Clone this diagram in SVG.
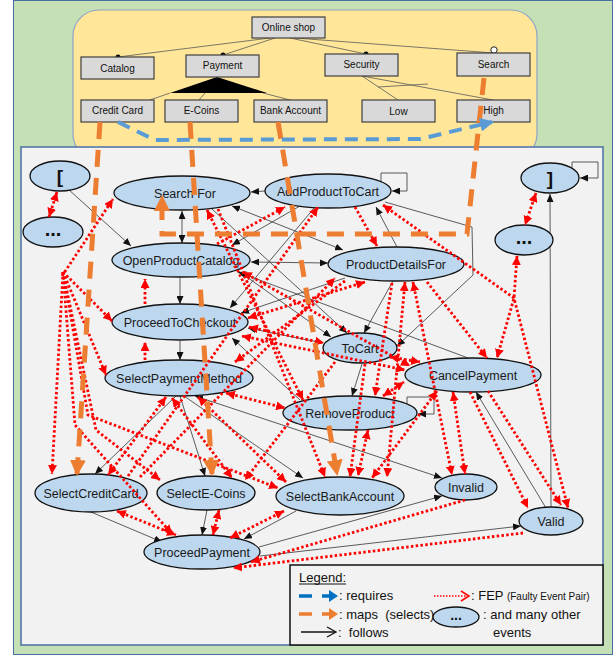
<svg xmlns="http://www.w3.org/2000/svg" width="613" height="655" viewBox="0 0 613 655">
<style>
.fb{fill:#d9d9d9;stroke:#404040;stroke-width:1.2}
.ft{font-family:"Liberation Sans",Arial,sans-serif;font-size:10px;fill:#111;text-anchor:middle}
.fl{stroke:#595959;stroke-width:0.8;fill:none}
.nd{fill:#bdd7ee;stroke:#111;stroke-width:1.3}
.nt{font-family:"Liberation Sans",Arial,sans-serif;font-size:12.5px;fill:#1a1a1a;text-anchor:middle}
.big{font-family:"Liberation Sans",Arial,sans-serif;font-weight:bold;fill:#111;text-anchor:middle}
.bk{stroke:#333;stroke-width:0.8;fill:none;marker-end:url(#ab)}
.bk2{stroke:#333;stroke-width:0.8;fill:none;marker-start:url(#ab);marker-end:url(#ab)}
.rd{stroke:#f00;stroke-width:2.8;stroke-dasharray:2.5 2.3;fill:none;marker-end:url(#ar)}
.rd2{stroke:#f00;stroke-width:2.8;stroke-dasharray:2.5 2.3;fill:none;marker-start:url(#ar);marker-end:url(#ar)}
.or{stroke:#ed7d31;stroke-width:5;stroke-dasharray:17 11;fill:none;marker-end:url(#ao)}
.bl{stroke:#5b9bd5;stroke-width:4;stroke-dasharray:13 8;fill:none;marker-end:url(#abl)}
.lt{font-family:"Liberation Sans",Arial,sans-serif;font-size:13px;fill:#111;white-space:pre}
</style>
<defs>
<marker id="ab" markerUnits="userSpaceOnUse" markerWidth="8" markerHeight="7" refX="8" refY="3.5" orient="auto-start-reverse"><path d="M0,0 L8,3.5 L0,7 z" fill="#111"/></marker>
<marker id="ar" markerUnits="userSpaceOnUse" markerWidth="9" markerHeight="9" refX="9" refY="4.5" orient="auto-start-reverse"><path d="M0,0 L9,4.5 L0,9 z" fill="#f00"/></marker>
<marker id="ao" markerUnits="userSpaceOnUse" markerWidth="16" markerHeight="16" refX="14" refY="8" orient="auto"><path d="M0,0 L16,8 L0,16 z" fill="#ed7d31"/></marker>
<marker id="abl" markerUnits="userSpaceOnUse" markerWidth="14" markerHeight="14" refX="12" refY="7" orient="auto"><path d="M0,0 L14,7 L0,14 z" fill="#5b9bd5"/></marker>
</defs>
<rect width="613" height="655" fill="#fff"/>
<rect x="13.5" y="0.5" width="599" height="654" fill="#c5e0b4" stroke="#4a6fa5" stroke-width="1"/>
<rect x="73" y="10" width="464" height="150" rx="26" fill="#ffe699" stroke="#8ea3c8" stroke-width="1.2"/>
<rect x="21" y="147" width="582" height="498" fill="#f2f2f2" stroke="#4a6fa5" stroke-width="1.5"/>

<g id="feature-lines">
<path class="fl" d="M270,38 L118,57 M275,38 L223,55 M290,38 L366,54 M295,38 L494,53"/>
<path class="fl" d="M170,93 L150,100 M205,93 L199,100 M263,93 L290,100"/>
<path class="fl" d="M362,76 L398,100 M362,76 L493,100 M378,87 L428,84"/>
<path d="M217,77 L170,93 L267,93 z" fill="#000"/>
<circle cx="118" cy="57" r="2.5" fill="#000"/>
<circle cx="223" cy="55" r="2.5" fill="#000"/>
<circle cx="366" cy="54" r="2.5" fill="#000"/>
<circle cx="494" cy="50" r="3.2" fill="#fff" stroke="#222" stroke-width="1"/>
</g>
<g id="f-online"><rect class="fb" x="252" y="17" width="73" height="21"/><text class="ft" x="288.5" y="31">Online shop</text></g>
<g id="f-catalog"><rect class="fb" x="81" y="57" width="73" height="22"/><text class="ft" x="117.5" y="72">Catalog</text></g>
<g id="f-payment"><rect class="fb" x="186" y="55" width="73" height="22"/><text class="ft" x="222.5" y="69">Payment</text></g>
<g id="f-security"><rect class="fb" x="325" y="54" width="73" height="22"/><text class="ft" x="361.5" y="68">Security</text></g>
<g id="f-search"><rect class="fb" x="457" y="53" width="73" height="23"/><text class="ft" x="493.5" y="68">Search</text></g>
<g id="f-credit"><rect class="fb" x="81" y="100" width="73" height="22"/><text class="ft" x="117.5" y="114">Credit Card</text></g>
<g id="f-ecoins"><rect class="fb" x="165" y="100" width="73" height="22"/><text class="ft" x="201.5" y="114">E-Coins</text></g>
<g id="f-bank"><rect class="fb" x="254" y="100" width="73" height="22"/><text class="ft" x="290.5" y="114">Bank Account</text></g>
<g id="f-low"><rect class="fb" x="362" y="100" width="73" height="22"/><text class="ft" x="398.5" y="115">Low</text></g>
<g id="f-high"><rect class="fb" x="457" y="100" width="73" height="22"/><text class="ft" x="493.5" y="114">High</text></g>

<g id="follows">
<path class="bk" d="M68,189 L131,246"/>
<path class="bk" d="M265,191 L251,192"/>
<path class="bk2" d="M182,211 L182,243"/>
<path class="bk" d="M180,278 L180,304"/>
<path class="bk" d="M180,341 L180,360"/>
<path class="bk" d="M381,182 V173 H407 V191 H392"/>
<path class="bk" d="M572,168 V162 H598 V178 H580"/>
<path class="bk" d="M551,507 L550,194"/>
<path class="bk" d="M546,508 L476,392"/>
<path class="bk" d="M407,404 V397 H434 V414 H418"/>
<path class="bk2" d="M442,478 L195,396" stroke-width="1.3"/>
<path class="bk" d="M176,396 L95,474"/>
<path class="bk" d="M180,396 L205,476"/>
<path class="bk" d="M184,396 L303,478"/>
<path class="bk" d="M91,512 L162,542"/>
<path class="bk" d="M207,510 L202,535"/>
<path class="bk" d="M296,511 L244,539"/>
<path class="bk" d="M259,547 L442,496"/>
<path class="bk" d="M260,556 L521,526"/>
<path class="bk" d="M300,206 L232,245"/>
<path class="bk" d="M315,207 L230,308"/>
<path class="bk2" d="M251,262 L328,263"/>
<path class="bk2" d="M232,206 L343,250"/>
<path class="bk" d="M237,270 L331,337"/>
<path class="bk" d="M345,278 L241,313"/>
<path class="bk" d="M393,281 L364,333"/>
<path class="bk" d="M385,202 L472,227 L473,275 L397,346"/>
<path class="bk" d="M397,247 L376,207"/>
<path class="bk" d="M212,209 L347,333"/>
<path class="bk" d="M323,343 L248,328"/>
<path class="bk" d="M300,400 L232,338"/>
<path class="bk" d="M468,358 L238,272"/>
<path class="bk" d="M362,364 L352,396"/>
</g>

<g id="n-lbracket"><ellipse class="nd" cx="60" cy="176" rx="30" ry="15"/><text class="big" x="60" y="183" font-size="19">[</text></g>
<g id="n-dots-left"><ellipse class="nd" cx="53" cy="232" rx="30" ry="15"/><text class="big" x="53" y="236" font-size="20">...</text></g>
<g id="n-searchfor"><ellipse class="nd" cx="182" cy="193" rx="68" ry="17"/><text class="nt" x="185" y="197.5">Search For</text></g>
<g id="n-addproducttocart"><ellipse class="nd" cx="328" cy="191" rx="63" ry="17"/><text class="nt" x="328" y="195.5">AddProductToCart</text></g>
<g id="n-rbracket"><ellipse class="nd" cx="550" cy="178" rx="29" ry="15"/><text class="big" x="550" y="185" font-size="19">]</text></g>
<g id="n-dots-right"><ellipse class="nd" cx="524" cy="240" rx="29" ry="15"/><text class="big" x="524" y="244" font-size="20">...</text></g>
<g id="n-openproductcatalog"><ellipse class="nd" cx="181" cy="260" rx="69" ry="17"/><text class="nt" x="181" y="264.5">OpenProductCatalog</text></g>
<g id="n-productdetailsfor"><ellipse class="nd" cx="396" cy="264" rx="68" ry="17"/><text class="nt" x="396" y="268.5">ProductDetailsFor</text></g>
<g id="n-proceedtocheckout"><ellipse class="nd" cx="180" cy="322" rx="68" ry="18"/><text class="nt" x="180" y="326.5">ProceedToCheckout</text></g>
<g id="n-selectpaymentmethod"><ellipse class="nd" cx="179" cy="378" rx="74" ry="18"/><text class="nt" x="179" y="382.5">SelectPaymentMethod</text></g>
<g id="n-tocart"><ellipse class="nd" cx="360" cy="348" rx="37" ry="15"/><text class="nt" x="360" y="352.5">ToCart</text></g>
<g id="n-cancelpayment"><ellipse class="nd" cx="473" cy="375" rx="68" ry="17"/><text class="nt" x="473" y="379.5">CancelPayment</text></g>
<g id="n-removeproduct"><ellipse class="nd" cx="350" cy="413" rx="67" ry="17"/><text class="nt" x="350" y="417.5">RemoveProduct</text></g>
<g id="n-selectcreditcard"><ellipse class="nd" cx="91" cy="493" rx="56" ry="19"/><text class="nt" x="91" y="497.5">SelectCreditCard</text></g>
<g id="n-selectecoins"><ellipse class="nd" cx="206" cy="493" rx="49" ry="17"/><text class="nt" x="206" y="497.5">SelectE-Coins</text></g>
<g id="n-selectbankaccount"><ellipse class="nd" cx="340" cy="496" rx="64" ry="19"/><text class="nt" x="340" y="500.5">SelectBankAccount</text></g>
<g id="n-invalid"><ellipse class="nd" cx="466" cy="487" rx="31" ry="13"/><text class="nt" x="466" y="491.5">Invalid</text></g>
<g id="n-valid"><ellipse class="nd" cx="551" cy="521" rx="32" ry="14"/><text class="nt" x="551" y="525.5">Valid</text></g>
<g id="n-proceedpayment"><ellipse class="nd" cx="202" cy="552" rx="58" ry="17"/><text class="nt" x="202" y="556.5">ProceedPayment</text></g>

<g id="fep">
<path class="rd2" d="M57,192 L49,217"/>
<path class="rd2" d="M536,193 L525,225"/>
<path class="rd" d="M62,276 L113,199"/>
<path class="rd" d="M63,272 L112,321"/>
<path class="rd" d="M63,272 L106,375"/>
<path class="rd" d="M63,272 L52,474"/>
<path class="rd" d="M63,272 L96,430 L160,480"/>
<path class="rd" d="M63,272 L88,415 L278,488"/>
<path class="rd" d="M63,272 L75,425 L172,534"/>
<path class="rd" d="M145,304 L145,279"/>
<path class="rd" d="M145,360 L145,342"/>
<path class="rd2" d="M166,397 L108,475"/>
<path class="rd2" d="M172,398 L232,478"/>
<path class="rd2" d="M198,397 L286,482"/>
<path class="rd2" d="M117,511 L176,535"/>
<path class="rd2" d="M219,510 L213,535"/>
<path class="rd2" d="M284,511 L230,538"/>
<path class="rd" d="M465,500 L251,562"/>
<path class="rd" d="M523,533 L233,568"/>
<path class="rd" d="M217,244 L285,207"/>
<path class="rd" d="M128,476 L318,207"/>
<path class="rd" d="M355,207 L377,246"/>
<path class="rd2" d="M383,205 L514,298 L568,508"/>
<path class="rd2" d="M517,256 L514,298 L497,358"/>
<path class="rd" d="M427,282 L487,358"/>
<path class="rd2" d="M248,318 L365,282"/>
<path class="rd" d="M345,281 L235,362"/>
<path class="rd2" d="M405,282 L387,477"/>
<path class="rd2" d="M413,282 L452,475"/>
<path class="rd2" d="M249,327 L324,343"/>
<path class="rd2" d="M226,393 L285,408"/>
<path class="rd2" d="M207,210 L303,400"/>
<path class="rd" d="M218,209 L325,477"/>
<path class="rd2" d="M368,430 L358,476"/>
<path class="rd2" d="M383,396 L404,382"/>
<path class="rd2" d="M390,357 L420,362"/>
<path class="rd2" d="M453,392 L465,474"/>
<path class="rd" d="M470,392 L528,508"/>
<path class="rd" d="M488,391 L561,505"/>
<path class="rd2" d="M437,391 L372,478"/>
<path class="rd" d="M335,362 L245,480"/>
<path class="rd" d="M392,283 L375,396"/>
<path class="rd2" d="M243,272 L410,366"/>
<path class="rd" d="M140,477 L335,278"/>
<path class="rd2" d="M242,336 L405,370"/>
<path class="rd" d="M365,364 L350,477"/>
</g>

<g id="maps">
<path class="or" d="M100,122 L77,474"/>
<path class="or" d="M190,122 L212,474"/>
<path class="or" d="M278,122 L337,474"/>
<path class="or" d="M484,78 L467,234 L162,234 L162,197"/>
</g>
<g id="requires">
<path class="bl" d="M118,122 L155,140 L420,139 L492,122"/>
</g>

<g id="legend">
<rect x="290" y="565" width="313" height="80" fill="#f2f2f2" stroke="#111" stroke-width="1.5"/>
<text class="lt" x="299" y="582">Legend:</text>
<line x1="299" y1="584" x2="346" y2="584" stroke="#111" stroke-width="1"/>
<line x1="299" y1="596" x2="312" y2="596" stroke="#0070c0" stroke-width="3.5"/>
<line x1="322" y1="596" x2="330" y2="596" stroke="#0070c0" stroke-width="3.5"/>
<path d="M329,590 L338,596 L329,602 z" fill="#0070c0"/>
<text class="lt" x="339" y="600">: requires</text>
<line x1="299" y1="614" x2="312" y2="614" stroke="#ed7d31" stroke-width="3.5"/>
<line x1="322" y1="614" x2="330" y2="614" stroke="#ed7d31" stroke-width="3.5"/>
<path d="M329,608 L338,614 L329,620 z" fill="#ed7d31"/>
<text class="lt" x="339" y="619">: maps&#160; (selects)</text>
<line x1="301" y1="632" x2="335" y2="632" stroke="#111" stroke-width="1.3"/>
<path d="M327,627 L336,632 L327,637" fill="none" stroke="#111" stroke-width="1.3"/>
<text class="lt" x="338" y="637">:&#160; follows</text>
<line x1="434" y1="596" x2="467" y2="596" stroke="#f00" stroke-width="1.6" stroke-dasharray="1.5 1.5"/>
<path d="M461,591 L469,596 L461,601" fill="none" stroke="#f00" stroke-width="1.5"/>
<text class="lt" x="471" y="600">: FEP <tspan font-size="10">(Faulty Event Pair)</tspan></text>
<ellipse class="nd" cx="456" cy="617" rx="23" ry="10"/>
<text class="big" x="456" y="620" font-size="14">...</text>
<text class="lt" x="483" y="619">: and many other</text>
<text class="lt" x="493" y="637">events</text>
</g>
</svg>
